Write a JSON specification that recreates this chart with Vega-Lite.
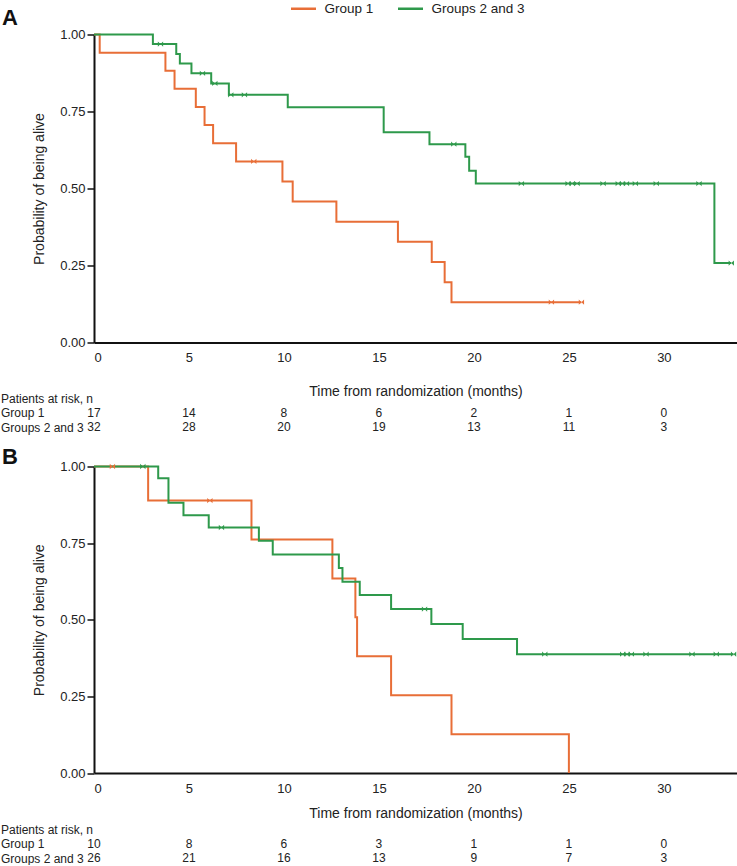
{
  "$schema": "https://vega.github.io/schema/vega-lite/v6.json",
  "padding": {"left": 0, "top": -5.5, "right": 0, "bottom": 0},
  "background": "white",
  "config": {
    "font": "Liberation Sans",
    "view": {"stroke": null},
    "axis": {"labelFont": "Liberation Sans", "titleFont": "Liberation Sans", "labelColor": "#222", "titleColor": "#222", "titleFontWeight": "normal", "grid": false, "domainColor": "#111", "tickColor": "#111"},
    "title": {"font": "Liberation Sans", "color": "#111"},
    "legend": {"labelFont": "Liberation Sans"}
  },
  "datasets": {
    "km": [
      {"panel":"A","group":"Group 1","kind":"step","t":0,"s":1},
      {"panel":"A","group":"Group 1","kind":"step","t":0.3,"s":0.941},
      {"panel":"A","group":"Group 1","kind":"step","t":3.76,"s":0.882},
      {"panel":"A","group":"Group 1","kind":"step","t":4.24,"s":0.824},
      {"panel":"A","group":"Group 1","kind":"step","t":5.36,"s":0.765},
      {"panel":"A","group":"Group 1","kind":"step","t":5.82,"s":0.706},
      {"panel":"A","group":"Group 1","kind":"step","t":6.27,"s":0.647},
      {"panel":"A","group":"Group 1","kind":"step","t":7.48,"s":0.588},
      {"panel":"A","group":"Group 1","kind":"step","t":9.92,"s":0.523},
      {"panel":"A","group":"Group 1","kind":"step","t":10.46,"s":0.458},
      {"panel":"A","group":"Group 1","kind":"step","t":12.76,"s":0.392},
      {"panel":"A","group":"Group 1","kind":"step","t":16.0,"s":0.327},
      {"panel":"A","group":"Group 1","kind":"step","t":17.78,"s":0.261},
      {"panel":"A","group":"Group 1","kind":"step","t":18.46,"s":0.196},
      {"panel":"A","group":"Group 1","kind":"step","t":18.82,"s":0.131},
      {"panel":"A","group":"Group 1","kind":"step","t":25.66,"s":0.131},
      {"panel":"A","group":"Group 1","kind":"censor","t":8.41,"s":0.588},
      {"panel":"A","group":"Group 1","kind":"censor","t":24.08,"s":0.131},
      {"panel":"A","group":"Group 1","kind":"censor","t":25.66,"s":0.131},
      {"panel":"A","group":"Groups 2 and 3","kind":"step","t":0,"s":1},
      {"panel":"A","group":"Groups 2 and 3","kind":"step","t":3.1,"s":0.969},
      {"panel":"A","group":"Groups 2 and 3","kind":"step","t":4.33,"s":0.937},
      {"panel":"A","group":"Groups 2 and 3","kind":"step","t":4.52,"s":0.906},
      {"panel":"A","group":"Groups 2 and 3","kind":"step","t":5.13,"s":0.874},
      {"panel":"A","group":"Groups 2 and 3","kind":"step","t":6.17,"s":0.841},
      {"panel":"A","group":"Groups 2 and 3","kind":"step","t":7.1,"s":0.804},
      {"panel":"A","group":"Groups 2 and 3","kind":"step","t":10.2,"s":0.764},
      {"panel":"A","group":"Groups 2 and 3","kind":"step","t":15.25,"s":0.683},
      {"panel":"A","group":"Groups 2 and 3","kind":"step","t":17.66,"s":0.644},
      {"panel":"A","group":"Groups 2 and 3","kind":"step","t":19.55,"s":0.603},
      {"panel":"A","group":"Groups 2 and 3","kind":"step","t":19.75,"s":0.558},
      {"panel":"A","group":"Groups 2 and 3","kind":"step","t":20.1,"s":0.516},
      {"panel":"A","group":"Groups 2 and 3","kind":"step","t":32.66,"s":0.258},
      {"panel":"A","group":"Groups 2 and 3","kind":"step","t":33.55,"s":0.258},
      {"panel":"A","group":"Groups 2 and 3","kind":"censor","t":3.5,"s":0.969},
      {"panel":"A","group":"Groups 2 and 3","kind":"censor","t":5.71,"s":0.874},
      {"panel":"A","group":"Groups 2 and 3","kind":"censor","t":6.36,"s":0.841},
      {"panel":"A","group":"Groups 2 and 3","kind":"censor","t":7.2,"s":0.804},
      {"panel":"A","group":"Groups 2 and 3","kind":"censor","t":7.92,"s":0.804},
      {"panel":"A","group":"Groups 2 and 3","kind":"censor","t":18.94,"s":0.644},
      {"panel":"A","group":"Groups 2 and 3","kind":"censor","t":22.5,"s":0.516},
      {"panel":"A","group":"Groups 2 and 3","kind":"censor","t":24.96,"s":0.516},
      {"panel":"A","group":"Groups 2 and 3","kind":"censor","t":25.17,"s":0.516},
      {"panel":"A","group":"Groups 2 and 3","kind":"censor","t":25.43,"s":0.516},
      {"panel":"A","group":"Groups 2 and 3","kind":"censor","t":26.8,"s":0.516},
      {"panel":"A","group":"Groups 2 and 3","kind":"censor","t":27.6,"s":0.516},
      {"panel":"A","group":"Groups 2 and 3","kind":"censor","t":27.82,"s":0.516},
      {"panel":"A","group":"Groups 2 and 3","kind":"censor","t":28.03,"s":0.516},
      {"panel":"A","group":"Groups 2 and 3","kind":"censor","t":28.5,"s":0.516},
      {"panel":"A","group":"Groups 2 and 3","kind":"censor","t":29.6,"s":0.516},
      {"panel":"A","group":"Groups 2 and 3","kind":"censor","t":31.85,"s":0.516},
      {"panel":"A","group":"Groups 2 and 3","kind":"censor","t":33.55,"s":0.258},
      {"panel":"B","group":"Group 1","kind":"step","t":0,"s":1},
      {"panel":"B","group":"Group 1","kind":"step","t":2.85,"s":0.889},
      {"panel":"B","group":"Group 1","kind":"step","t":8.29,"s":0.762},
      {"panel":"B","group":"Group 1","kind":"step","t":12.55,"s":0.635},
      {"panel":"B","group":"Group 1","kind":"step","t":13.76,"s":0.508},
      {"panel":"B","group":"Group 1","kind":"step","t":13.85,"s":0.381},
      {"panel":"B","group":"Group 1","kind":"step","t":15.64,"s":0.254},
      {"panel":"B","group":"Group 1","kind":"step","t":18.82,"s":0.127},
      {"panel":"B","group":"Group 1","kind":"step","t":25.0,"s":0},
      {"panel":"B","group":"Group 1","kind":"censor","t":0.97,"s":1},
      {"panel":"B","group":"Group 1","kind":"censor","t":6.1,"s":0.889},
      {"panel":"B","group":"Groups 2 and 3","kind":"step","t":0,"s":1},
      {"panel":"B","group":"Groups 2 and 3","kind":"step","t":3.38,"s":0.962},
      {"panel":"B","group":"Groups 2 and 3","kind":"step","t":3.92,"s":0.882},
      {"panel":"B","group":"Groups 2 and 3","kind":"step","t":4.71,"s":0.841},
      {"panel":"B","group":"Groups 2 and 3","kind":"step","t":6.04,"s":0.801},
      {"panel":"B","group":"Groups 2 and 3","kind":"step","t":8.68,"s":0.758},
      {"panel":"B","group":"Groups 2 and 3","kind":"step","t":9.41,"s":0.713},
      {"panel":"B","group":"Groups 2 and 3","kind":"step","t":12.89,"s":0.669},
      {"panel":"B","group":"Groups 2 and 3","kind":"step","t":13.08,"s":0.624},
      {"panel":"B","group":"Groups 2 and 3","kind":"step","t":13.99,"s":0.581},
      {"panel":"B","group":"Groups 2 and 3","kind":"step","t":15.64,"s":0.535},
      {"panel":"B","group":"Groups 2 and 3","kind":"step","t":17.76,"s":0.486},
      {"panel":"B","group":"Groups 2 and 3","kind":"step","t":19.41,"s":0.437},
      {"panel":"B","group":"Groups 2 and 3","kind":"step","t":22.27,"s":0.388},
      {"panel":"B","group":"Groups 2 and 3","kind":"step","t":33.67,"s":0.388},
      {"panel":"B","group":"Groups 2 and 3","kind":"censor","t":2.57,"s":1},
      {"panel":"B","group":"Groups 2 and 3","kind":"censor","t":6.71,"s":0.801},
      {"panel":"B","group":"Groups 2 and 3","kind":"censor","t":17.4,"s":0.535},
      {"panel":"B","group":"Groups 2 and 3","kind":"censor","t":23.73,"s":0.388},
      {"panel":"B","group":"Groups 2 and 3","kind":"censor","t":27.83,"s":0.388},
      {"panel":"B","group":"Groups 2 and 3","kind":"censor","t":28.06,"s":0.388},
      {"panel":"B","group":"Groups 2 and 3","kind":"censor","t":28.29,"s":0.388},
      {"panel":"B","group":"Groups 2 and 3","kind":"censor","t":29.06,"s":0.388},
      {"panel":"B","group":"Groups 2 and 3","kind":"censor","t":31.48,"s":0.388},
      {"panel":"B","group":"Groups 2 and 3","kind":"censor","t":32.76,"s":0.388},
      {"panel":"B","group":"Groups 2 and 3","kind":"censor","t":33.67,"s":0.388}
    ],
    "risk": [
      {"panel":"A","row":"Group 1","t":0,"n":17},{"panel":"A","row":"Group 1","t":5,"n":14},{"panel":"A","row":"Group 1","t":10,"n":8},{"panel":"A","row":"Group 1","t":15,"n":6},{"panel":"A","row":"Group 1","t":20,"n":2},{"panel":"A","row":"Group 1","t":25,"n":1},{"panel":"A","row":"Group 1","t":30,"n":0},
      {"panel":"A","row":"Groups 2 and 3","t":0,"n":32},{"panel":"A","row":"Groups 2 and 3","t":5,"n":28},{"panel":"A","row":"Groups 2 and 3","t":10,"n":20},{"panel":"A","row":"Groups 2 and 3","t":15,"n":19},{"panel":"A","row":"Groups 2 and 3","t":20,"n":13},{"panel":"A","row":"Groups 2 and 3","t":25,"n":11},{"panel":"A","row":"Groups 2 and 3","t":30,"n":3},
      {"panel":"B","row":"Group 1","t":0,"n":10},{"panel":"B","row":"Group 1","t":5,"n":8},{"panel":"B","row":"Group 1","t":10,"n":6},{"panel":"B","row":"Group 1","t":15,"n":3},{"panel":"B","row":"Group 1","t":20,"n":1},{"panel":"B","row":"Group 1","t":25,"n":1},{"panel":"B","row":"Group 1","t":30,"n":0},
      {"panel":"B","row":"Groups 2 and 3","t":0,"n":26},{"panel":"B","row":"Groups 2 and 3","t":5,"n":21},{"panel":"B","row":"Groups 2 and 3","t":10,"n":16},{"panel":"B","row":"Groups 2 and 3","t":15,"n":13},{"panel":"B","row":"Groups 2 and 3","t":20,"n":9},{"panel":"B","row":"Groups 2 and 3","t":25,"n":7},{"panel":"B","row":"Groups 2 and 3","t":30,"n":3}
    ]
  },
  "bounds": "flush",
  "spacing": 35,
  "vconcat": [
    {
      "width": 643,
      "height": 308,
      "data": {"name": "km"},
      "title": {"text": "A", "anchor": "start", "frame": "group", "dx": -92, "dy": 18.5, "offset": 0, "baseline": "alphabetic", "fontSize": 22, "fontWeight": "bold"},
      "layer": [
        {
          "transform": [{"filter": "datum.panel == 'A' && datum.kind == 'step'"}],
          "mark": {"type": "line", "interpolate": "step-after", "strokeWidth": 2},
          "encoding": {
            "x": {"field": "t", "type": "quantitative", "scale": {"domain": [0, 33.85], "nice": false},
              "axis": {"values": [0, 5, 10, 15, 20, 25, 30], "format": "d", "ticks": false, "labelPadding": 9, "labelFontSize": 13, "domainWidth": 2, "title": "Time from randomization (months)", "titleFontSize": 14, "titlePadding": 20}},
            "y": {"field": "s", "type": "quantitative", "scale": {"domain": [0, 1], "nice": false},
              "axis": {"values": [0, 0.25, 0.5, 0.75, 1], "format": ".2f", "tickSize": 7, "tickWidth": 1.5, "labelPadding": 2, "labelFontSize": 13, "domainWidth": 2, "title": "Probability of being alive", "titleFontSize": 14, "titlePadding": 13}},
            "color": {"field": "group", "type": "nominal", "scale": {"domain": ["Group 1", "Groups 2 and 3"], "range": ["#E86E37", "#2E994B"]},
              "legend": {"orient": "none", "legendX": 195.5, "legendY": -40, "direction": "horizontal", "title": null, "symbolType": "stroke", "symbolStrokeWidth": 2.5, "symbolSize": 625, "labelFontSize": 13.5, "labelOffset": 7, "columnPadding": 19, "padding": 0, "labelColor": "#222"}}
          }
        },
        {
          "transform": [{"filter": "datum.panel == 'A' && datum.kind == 'censor'"}],
          "mark": {"type": "point", "shape": "M-1,-1L0,0L-1,1Z M1,-1L0,0L1,1Z", "size": 28, "filled": true, "opacity": 1, "strokeWidth": 0.6},
          "encoding": {
            "x": {"field": "t", "type": "quantitative"},
            "y": {"field": "s", "type": "quantitative"},
            "color": {"field": "group", "type": "nominal", "legend": {"orient": "none", "legendX": 195.5, "legendY": -40, "direction": "horizontal", "title": null, "symbolType": "stroke", "symbolStrokeWidth": 2.5, "symbolSize": 625, "labelFontSize": 13.5, "labelOffset": 7, "columnPadding": 19, "padding": 0, "labelColor": "#222"}}
          }
        }
      ]
    },
    {
      "width": 643,
      "height": 53.2,
      "data": {"name": "risk"},
      "transform": [{"filter": "datum.panel == 'A'"}],
      "mark": {"type": "text", "fontSize": 12, "color": "#222", "baseline": "middle"},
      "encoding": {
        "x": {"field": "t", "type": "quantitative", "scale": {"domain": [0, 33.85], "nice": false}, "axis": null},
        "y": {"field": "row", "type": "nominal", "scale": {"type": "point", "domain": ["Patients at risk, n", "Group 1", "Groups 2 and 3"], "range": [20.5, 49.5], "padding": 0},
          "axis": {"title": null, "domain": false, "ticks": false, "tickSize": 0, "labelAlign": "left", "labelPadding": 93.5, "labelFontSize": 12, "labelColor": "#222"}},
        "text": {"field": "n", "type": "quantitative"}
      }
    },
    {
      "width": 643,
      "height": 306.6,
      "data": {"name": "km"},
      "title": {"text": "B", "anchor": "start", "frame": "group", "dx": -92, "dy": 25.3, "offset": 0, "baseline": "alphabetic", "fontSize": 22, "fontWeight": "bold"},
      "layer": [
        {
          "transform": [{"filter": "datum.panel == 'B' && datum.kind == 'step'"}],
          "mark": {"type": "line", "interpolate": "step-after", "strokeWidth": 2},
          "encoding": {
            "x": {"field": "t", "type": "quantitative", "scale": {"domain": [0, 33.85], "nice": false},
              "axis": {"values": [0, 5, 10, 15, 20, 25, 30], "format": "d", "ticks": false, "labelPadding": 9, "labelFontSize": 13, "domainWidth": 2, "title": "Time from randomization (months)", "titleFontSize": 14, "titlePadding": 11}},
            "y": {"field": "s", "type": "quantitative", "scale": {"domain": [0, 1], "nice": false},
              "axis": {"values": [0, 0.25, 0.5, 0.75, 1], "format": ".2f", "tickSize": 7, "tickWidth": 1.5, "labelPadding": 2, "labelFontSize": 13, "domainWidth": 2, "title": "Probability of being alive", "titleFontSize": 14, "titlePadding": 13}},
            "color": {"field": "group", "type": "nominal", "legend": {"orient": "none", "legendX": 195.5, "legendY": -40, "direction": "horizontal", "title": null, "symbolType": "stroke", "symbolStrokeWidth": 2.5, "symbolSize": 625, "labelFontSize": 13.5, "labelOffset": 7, "columnPadding": 19, "padding": 0, "labelColor": "#222"}}
          }
        },
        {
          "transform": [{"filter": "datum.panel == 'B' && datum.kind == 'censor'"}],
          "mark": {"type": "point", "shape": "M-1,-1L0,0L-1,1Z M1,-1L0,0L1,1Z", "size": 28, "filled": true, "opacity": 1, "strokeWidth": 0.6},
          "encoding": {
            "x": {"field": "t", "type": "quantitative"},
            "y": {"field": "s", "type": "quantitative"},
            "color": {"field": "group", "type": "nominal", "legend": {"orient": "none", "legendX": 195.5, "legendY": -40, "direction": "horizontal", "title": null, "symbolType": "stroke", "symbolStrokeWidth": 2.5, "symbolSize": 625, "labelFontSize": 13.5, "labelOffset": 7, "columnPadding": 19, "padding": 0, "labelColor": "#222"}}
          }
        }
      ]
    },
    {
      "width": 643,
      "height": 53.2,
      "data": {"name": "risk"},
      "transform": [{"filter": "datum.panel == 'B'"}],
      "mark": {"type": "text", "fontSize": 12, "color": "#222", "baseline": "middle"},
      "encoding": {
        "x": {"field": "t", "type": "quantitative", "scale": {"domain": [0, 33.85], "nice": false}, "axis": null},
        "y": {"field": "row", "type": "nominal", "scale": {"type": "point", "domain": ["Patients at risk, n", "Group 1", "Groups 2 and 3"], "range": [20.5, 49.5], "padding": 0},
          "axis": {"title": null, "domain": false, "ticks": false, "tickSize": 0, "labelAlign": "left", "labelPadding": 93.5, "labelFontSize": 12, "labelColor": "#222"}},
        "text": {"field": "n", "type": "quantitative"}
      }
    }
  ]
}
